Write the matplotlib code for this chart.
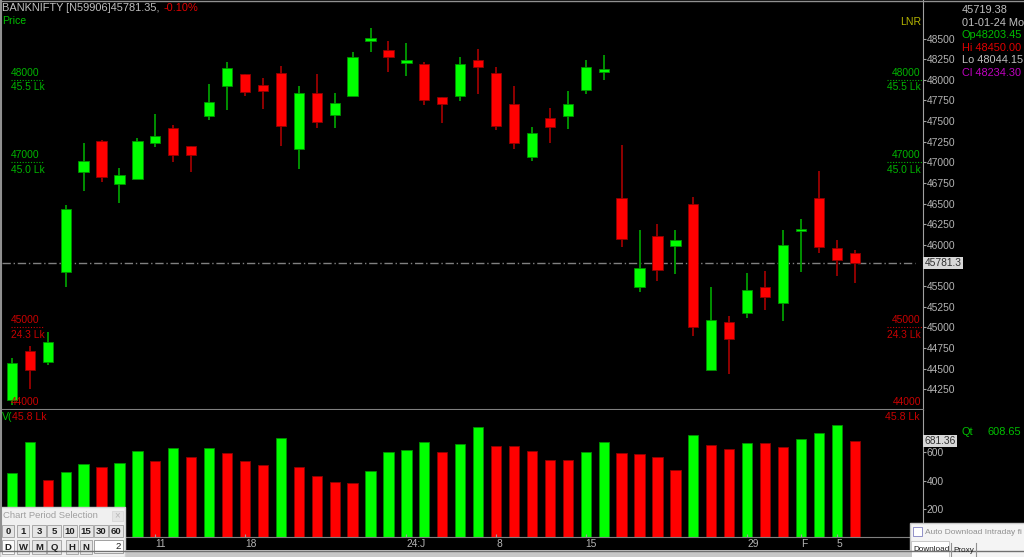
import numpy as np
import matplotlib.pyplot as plt
from matplotlib.patches import Rectangle

plt.rcParams['font.family'] = ['Liberation Sans', 'DejaVu Sans']

# BANKNIFTY daily candles, 29 Nov 2023 .. 6 Feb 2024
opens = [44120, 44714, 44580, 45672, 46886, 47259, 46733, 46794, 47231, 47420, 47194, 47566,
         47930, 48068, 47938, 48080, 47162, 47837, 47574, 47805, 48472, 48367, 48203.45, 48189,
         47793, 47801, 48242, 48088, 47704, 47068, 47534, 47566, 47881, 48100, 46571, 45490,
         46106, 45988, 46494, 44488, 45066, 45168, 45483, 45296, 46163, 46563, 45964, 45896]
highs = [44634, 44771, 44944, 46482, 47231, 47272, 46927, 47299, 47586, 47453, 47194, 47947,
         48221, 48068, 48020, 48169, 47926, 48068, 47837, 48342, 48630, 48472, 48450.00, 48221,
         47793, 48278, 48375, 48153, 47930, 47425, 47655, 47869, 48242, 48302, 47210, 46179,
         46248, 46179, 46583, 45490, 45135, 45660, 45685, 46179, 46308, 46895, 46057, 45936]
lows = [44060, 44257, 44540, 45490, 46655, 46757, 46510, 46794, 47182, 47007, 46886, 47513,
        47635, 47805, 47643, 47202, 46919, 47413, 47413, 47805, 48342, 48092, 48044.15, 47696,
        47481, 47744, 47825, 47392, 47158, 47020, 47238, 47408, 47825, 47999, 45976, 45430,
        45560, 45645, 44896, 44488, 44439, 45114, 45216, 45074, 45673, 45903, 45621, 45532]
closes = [44568, 44479, 44819, 46433, 47016, 46825, 46842, 47259, 47316, 47089, 47089, 47732,
          48141, 47857, 47865, 47444, 47837, 47486, 47720, 48278, 48505, 48282, 48234.30, 47753,
          47704, 48197, 48153, 47444, 47238, 47352, 47432, 47704, 48153, 48120, 46066, 45714,
          45693, 46057, 45005, 45086, 44864, 45447, 45362, 45996, 46191, 45969, 45814, 45781.35]
volumes = [454, 671, 407, 459, 520, 495, 525, 612, 539, 629, 565, 629, 596, 539, 511, 700,
           497, 431, 389, 384, 469, 605, 615, 671, 605, 662, 777, 647, 643, 610, 548, 544,
           601, 676, 594, 589, 565, 473, 721, 655, 626, 669, 669, 636, 693, 735, 796, 681.36]
vol_colors = 'GGRGGRGGRGRGRRRGRRRRGGGGRGGRRRRRGGRRRRGRRGRRGGGR'

date_pos = [8, 13, 22, 27, 32, 41, 44, 46]
date_lbl = ['11', '18', '24:J', '8', '15', '29', 'F', '5']

price_ticks = [48500, 48250, 48000, 47750, 47500, 47250, 47000, 46750, 46500, 46250,
               46000, 45500, 45250, 45000, 44750, 44500, 44250]
vol_ticks = [200, 400, 600]

levels = [48000, 47000, 45000]
level_sub = ['45.5 Lk', '45.0 Lk', '24.3 Lk']
level_col = ['#00b400', '#00b400', '#c80000']

last_price = 45781.35
info = [('45719.38', '#c0c0c0'), ('01-01-24 Mo', '#c0c0c0'), ('Op48203.45', '#00c000'),
        ('Hi 48450.00', '#e00000'), ('Lo 48044.15', '#c0c0c0'), ('Cl 48234.30', '#c000c0')]

W, H = 1024, 557


def box(l, t, r, b):
    return [l / W, 1 - b / H, (r - l) / W, (b - t) / H]


fig = plt.figure(figsize=(10.24, 5.57), dpi=100, facecolor='black')
ax = fig.add_axes(box(2, 0, 922.7, 410), facecolor='black')
axv = fig.add_axes(box(2, 410, 922.7, 537.3), facecolor='black')

x = np.arange(len(opens))
o, h, l, c = (np.array(v, dtype=float) for v in (opens, highs, lows, closes))
up = c >= o
body_col = np.where(up, '#00ff00', '#ff0000')
wick_col = np.where(up, '#009000', '#900000')
ax.vlines(x, l, h, colors=wick_col, lw=1.4, zorder=2)
ax.bar(x, np.maximum(np.abs(c - o), 30), bottom=np.minimum(o, c), width=0.57,
       color=body_col, edgecolor=wick_col, lw=0.6, zorder=3)

ax.set_xlim(-0.55, 50.79)
ax.set_ylim(43998, 48967)
ax.axhline(last_price, xmax=0.992, color='#808080', lw=1, ls=(0, (6, 2, 1, 2)), zorder=1)

for s in ['top', 'left']:
    ax.spines[s].set_visible(False)
ax.spines['right'].set_color('#a0a0a0')
ax.spines['bottom'].set_color('#808080')
ax.spines['bottom'].set_linewidth(1.5)
ax.yaxis.tick_right()
ax.set_yticks(price_ticks)
ax.tick_params(axis='y', colors='#a0a0a0', labelcolor='#b4b4b4', labelsize=7.4,
               length=2, pad=1)
ax.tick_params(axis='x', bottom=False, labelbottom=False)

# level markers on both sides
yt = ax.get_yaxis_transform()
for lv, sub, col in zip(levels, level_sub, level_col):
    for xa, ha, x0, x1 in [(0.0098, 'left', 0.0098, 0.045), (0.998, 'right', 0.961, 1.0)]:
        ax.annotate(str(lv), (xa, lv), xycoords=yt, xytext=(0, 5), textcoords='offset points',
                    ha=ha, va='center', color=col, fontsize=7.4)
        ax.annotate(sub, (xa, lv), xycoords=yt, xytext=(0, -5.5), textcoords='offset points',
                    ha=ha, va='center', color=col, fontsize=7.4)
        ax.plot([x0, x1], [lv, lv], transform=yt, color=col, lw=0.8, ls=(0, (1, 1.5)))
for xa, ha in [(0.0098, 'left'), (0.998, 'right')]:
    ax.annotate('44000', (xa, 44000), xycoords=yt, xytext=(0, 5.5), textcoords='offset points',
                ha=ha, va='center', color='#c80000', fontsize=7.4)
ax.text(1.002, last_price, '45781.3', transform=yt, ha='left', va='center', fontsize=7.4,
        color='#303030', bbox=dict(boxstyle='square,pad=0.12', fc='#d8d8d8', ec='none'))

# volume pane
vcol = ['#00ff00' if v == 'G' else '#ff0000' for v in vol_colors]
vedge = ['#009000' if v == 'G' else '#900000' for v in vol_colors]
axv.bar(x, volumes, width=0.57, color=vcol, edgecolor=vedge, lw=0.6)
axv.set_xlim(-0.55, 50.79)
axv.set_ylim(0, 900)
for s in ['top', 'left']:
    axv.spines[s].set_visible(False)
axv.spines['right'].set_color('#a0a0a0')
axv.spines['bottom'].set_color('#808080')
axv.yaxis.tick_right()
axv.set_yticks(vol_ticks)
axv.tick_params(axis='y', colors='#a0a0a0', labelcolor='#b4b4b4', labelsize=7.4,
                length=2, pad=1)
axv.set_xticks(date_pos, date_lbl)
axv.tick_params(axis='x', colors='#a0a0a0', labelcolor='#b4b4b4', labelsize=7.4,
                length=2, pad=1.5, direction='in')
for t in axv.get_xticklabels():
    t.set_ha('left')
axv.text(1.002, volumes[-1], '681.36', transform=axv.get_yaxis_transform(), ha='left',
         va='center', fontsize=7.4, color='#303030',
         bbox=dict(boxstyle='square,pad=0.12', fc='#d8d8d8', ec='none'))

# overlay in pixel coordinates for header, info panel and windows
ov = fig.add_axes([0, 0, 1, 1])
ov.set_xlim(0, W)
ov.set_ylim(H, 0)
ov.axis('off')
ov.set_zorder(10)

ov.plot([1, 1], [0, 550], color='#909090', lw=1.5)
ov.plot([0, W], [0.5, 0.5], color='#909090', lw=1)
ov.add_patch(Rectangle((0, 550), W, 7, fc='#c8c8c8', ec='none'))
ov.plot([0, W], [550.5, 550.5], color='#707070', lw=1)

ov.text(2, 8, 'BANKNIFTY [N59906]45781.35,', color='#c0c0c0', fontsize=7.9, va='center')
ov.text(164, 8, '-0.10%', color='#e00000', fontsize=7.9, va='center')
ov.text(2, 21.5, 'Price', color='#00c000', fontsize=7.6, va='center')
ov.text(900, 22, 'LNR', color='#b4b400', fontsize=7.6, va='center')
for i, (t, col) in enumerate(info):
    ov.text(961.5, 10 + i * 12.55, t, color=col, fontsize=7.9, va='center')
ov.text(962, 431.7, 'Qt', color='#00c000', fontsize=7.9, va='center')
ov.text(988, 431.7, '608.65', color='#00c000', fontsize=7.9, va='center')
ov.text(2, 417.5, 'V(', color='#00c000', fontsize=7.6, va='center')
ov.text(12, 417.5, '45.8 Lk', color='#c80000', fontsize=7.6, va='center')
ov.text(920, 417, '45.8 Lk', color='#c80000', fontsize=7.6, va='center', ha='right')

# chart period selection window
ov.add_patch(Rectangle((0, 507), 125, 50, fc='#f0f0f0', ec='#d0d0d0', lw=1))
ov.text(3, 515.5, 'Chart Period Selection', color='#a0a0a0', fontsize=6.8, va='center')
ov.add_patch(Rectangle((112, 510.5), 11, 10, fc='#e4e4e4', ec='#d8d8d8', lw=0.6))
ov.text(117.5, 515.5, '\u00d7', color='#b8b8b8', fontsize=7, ha='center', va='center')
row1 = [('0', 2, 14), ('1', 17, 29), ('3', 32, 46), ('5', 47, 61), ('10', 63, 77),
        ('15', 79, 93), ('30', 94, 108), ('60', 109, 123)]
for t, a, b in row1:
    ov.add_patch(Rectangle((a, 525), b - a, 12, fc='#e6e6e6', ec='#a8a8a8', lw=0.7))
    ov.text((a + b) / 2, 531.3, t, fontsize=6.8, ha='center', va='center', color='#202020',
            fontweight='bold')
row2 = [('D', 2, 14), ('W', 17, 29), ('M', 32, 46), ('Q', 47, 61), ('H', 66, 78), ('N', 80, 92)]
for t, a, b in row2:
    fc = '#fafafa' if t == 'D' else '#e6e6e6'
    ov.add_patch(Rectangle((a, 540), b - a, 14, fc=fc, ec='#a8a8a8', lw=0.7))
    ov.text((a + b) / 2, 547.3, t, fontsize=6.8, ha='center', va='center', color='#202020',
            fontweight='bold')
ov.add_patch(Rectangle((94, 540), 29, 13, fc='white', ec='#a0a0a0', lw=0.7))
ov.text(121, 546.5, '2', fontsize=6.8, ha='right', va='center', color='#202020')

# auto download window
ov.add_patch(Rectangle((910, 523), 120, 40, fc='#f4f4f4', ec='#c8c8c8', lw=1))
ov.add_patch(Rectangle((913, 527), 9, 9, fc='white', ec='#8080c0', lw=0.6))
ov.text(925, 532, 'Auto Download Intraday fi', color='#909090', fontsize=6.0, va='center')
ov.add_patch(Rectangle((911, 541), 38, 16, fc='white', ec='#c0c0c0', lw=0.6))
ov.text(913, 549.5, 'Download', color='#202020', fontsize=5.9, va='center')
ov.text(953, 550.5, 'Proxy', color='#202020', fontsize=5.9, va='center')
ov.plot([950.5, 950.5], [543, 557], color='#909090', lw=0.8)
ov.plot([975.5, 975.5], [543, 557], color='#909090', lw=0.8)

fig.savefig('out.png', dpi=100, facecolor='black')
